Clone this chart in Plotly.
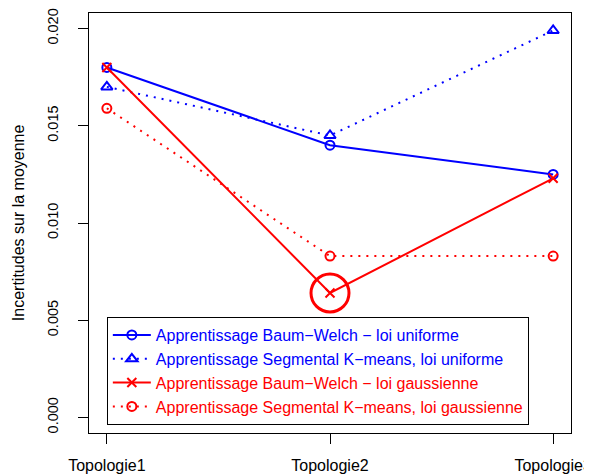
import plotly.graph_objects as go

# Data
topologies = ['Topologie1', 'Topologie2', 'Topologie3']
x_pos = [1, 2, 3]
bw_uniforme = [0.0180, 0.0140, 0.0125]
skm_uniforme = [0.0170, 0.0145, 0.0199]
bw_gaussienne = [0.0180, 0.0064, 0.0123]
skm_gaussienne = [0.0159, 0.0083, 0.0083]
y_ticks = [0.000, 0.005, 0.010, 0.015, 0.020]
y_ticklabels = ['0.000', '0.005', '0.010', '0.015', '0.020']

blue = '#0000FF'
red = '#FF0000'
dotted = '2px,6px'

fig = go.Figure()

fig.add_trace(go.Scatter(
    x=x_pos, y=bw_uniforme, mode='lines+markers',
    name='<span style="color:#0000FF">Apprentissage Baum\u2212Welch \u2212 loi uniforme</span>',
    line=dict(color=blue, width=2),
    marker=dict(symbol='circle-open', size=9, color=blue, line=dict(width=2))
))
fig.add_trace(go.Scatter(
    x=x_pos, y=skm_uniforme, mode='lines+markers',
    name='<span style="color:#0000FF">Apprentissage Segmental K\u2212means, loi uniforme</span>',
    line=dict(color=blue, width=2, dash=dotted),
    marker=dict(symbol='triangle-up-open', size=10, color=blue, line=dict(width=2))
))
fig.add_trace(go.Scatter(
    x=x_pos, y=bw_gaussienne, mode='lines+markers',
    name='<span style="color:#FF0000">Apprentissage Baum\u2212Welch \u2212 loi gaussienne</span>',
    line=dict(color=red, width=2),
    marker=dict(symbol='x-thin-open', size=9, color=red, line=dict(width=2, color=red))
))
fig.add_trace(go.Scatter(
    x=x_pos, y=skm_gaussienne, mode='lines+markers',
    name='<span style="color:#FF0000">Apprentissage Segmental K\u2212means, loi gaussienne</span>',
    line=dict(color=red, width=2, dash=dotted),
    marker=dict(symbol='circle-open', size=9, color=red, line=dict(width=2))
))

# highlight the minimum with a big circle
fig.add_trace(go.Scatter(
    x=[x_pos[1]], y=[bw_gaussienne[1]], mode='markers', showlegend=False,
    marker=dict(symbol='circle-open', size=38, color=red, line=dict(width=3, color=red))
))

# the page body keeps its default 8px margin, so the figure is 8px smaller
fig.update_layout(
    width=584, height=467,
    margin=dict(l=81, r=21, t=5, b=42),
    plot_bgcolor='white', paper_bgcolor='white',
    font=dict(family='Liberation Sans, Arial, sans-serif', size=16, color='black'),
    legend=dict(
        x=0.037, y=0.276, xanchor='left', yanchor='top',
        bordercolor='black', borderwidth=1, bgcolor='white',
        font=dict(size=16), tracegroupgap=0, itemwidth=38,
    ),
)
fig.add_annotation(
    text='Incertitudes sur la moyenne', textangle=-90, font=dict(size=16),
    xref='paper', yref='paper', x=-0.147, y=0.5, xanchor='center', yanchor='middle',
    showarrow=False,
)
fig.update_xaxes(
    range=[0.92, 3.08], tickvals=x_pos, ticktext=topologies, automargin=False,
    ticklabeloverflow='allow', ticklabelstandoff=8, tickfont=dict(size=16),
    showline=True, mirror=True, linecolor='black', linewidth=1,
    ticks='outside', ticklen=10, tickcolor='black', showgrid=False, zeroline=False,
)
fig.update_yaxes(
    range=[-0.0008, 0.0208], tickvals=y_ticks, ticktext=y_ticklabels, tickangle=-90,
    automargin=False, ticklabeloverflow='allow', ticklabelstandoff=14,
    tickfont=dict(size=14.5),
    showline=True, mirror=True, linecolor='black', linewidth=1,
    ticks='outside', ticklen=10, tickcolor='black', showgrid=False, zeroline=False,
)

fig.write_html('out.html')
